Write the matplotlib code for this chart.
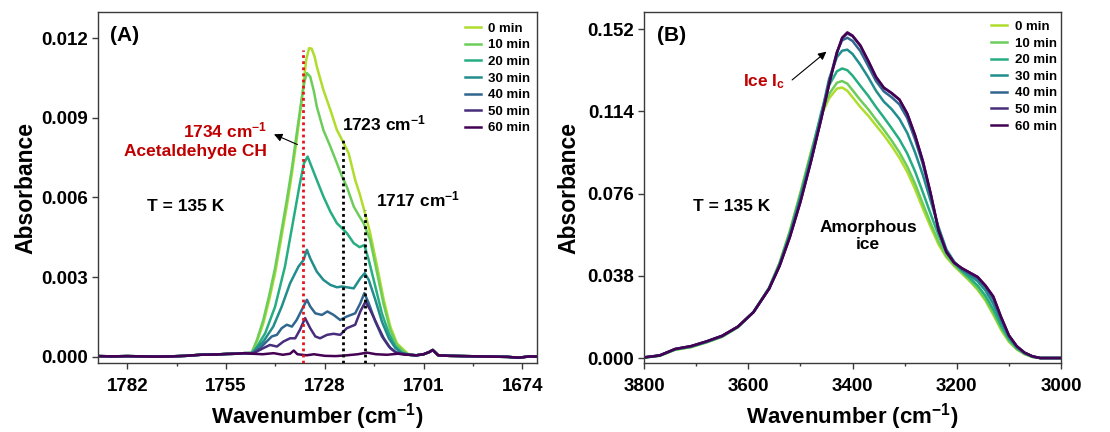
import numpy as np
import matplotlib
matplotlib.use("Agg")
import matplotlib.pyplot as plt
from matplotlib.ticker import MultipleLocator, FormatStrFormatter

plt.rcParams["font.family"] = ["Liberation Sans", "DejaVu Sans"]
plt.rcParams["font.weight"] = "bold"
plt.rcParams["mathtext.fontset"] = "custom"
plt.rcParams["mathtext.rm"] = "Liberation Sans:bold"
plt.rcParams["mathtext.bf"] = "Liberation Sans:bold"
plt.rcParams["mathtext.default"] = "bf"

times = ["0 min", "10 min", "20 min", "30 min", "40 min", "50 min", "60 min"]
colors = ["#b0dc2c", "#6ccd5a", "#26ad81", "#228d8d", "#31678e", "#472d7b", "#440154"]

# ---- (A) C=O stretch region, shared flat baseline on both sides ----
base_left_wn = [1790, 1786, 1782, 1778, 1774, 1770, 1766, 1762, 1758, 1755, 1752, 1750]
base_left_abs = [0.00003, 0.00002, 0.00003, 0.00002, 0.00001, 0.00002, 0.00004, 0.00008,
                 0.00009, 0.00011, 0.00012, 0.00014]
base_right_wn = [1705, 1703, 1701, 1699.5, 1698.5, 1697, 1694, 1690, 1686, 1682, 1678, 1675, 1672, 1670]
base_right_abs = [0.00008, 0.00006, 0.00010, 0.00018, 0.00026, 0.00006, 0.00004, 0.00003,
                  0.00002, 0.00001, 0.0, -0.00003, 0.00002, 0.00001]

a_wn_00 = [1748.0, 1746.5, 1744.8, 1743.2, 1741.6, 1740.0, 1738.4, 1737.0, 1735.7, 1734.3,
           1733.1, 1732.3, 1731.6, 1730.8, 1730.2, 1728.4, 1726.5, 1724.7, 1723.3, 1721.5,
           1719.7, 1718.4, 1717.4, 1715.6, 1713.7, 1711.9, 1710.1, 1708.3, 1706.4]
a_abs_00 = [0.00014, 0.00060, 0.00127, 0.00215, 0.00315, 0.00440, 0.00566, 0.00690, 0.00817, 0.00967,
            0.01118, 0.01162, 0.01160, 0.01130, 0.01093, 0.01005, 0.00930, 0.00854, 0.00817, 0.00767,
            0.00666, 0.00610, 0.00560, 0.00466, 0.00340, 0.00215, 0.00114, 0.00051, 0.00026]

a_wn_10 = [1748.0, 1746.5, 1744.8, 1743.2, 1741.6, 1740.0, 1738.4, 1737.0, 1735.7, 1734.3,
           1733.5, 1732.9, 1732.0, 1731.0, 1730.2, 1728.4, 1726.5, 1724.7, 1723.3, 1722.0,
           1720.1, 1718.6, 1717.4, 1715.6, 1713.7, 1711.9, 1710.1, 1708.3, 1706.4]
a_abs_10 = [0.00016, 0.00066, 0.00140, 0.00232, 0.00335, 0.00462, 0.00590, 0.00710, 0.00840, 0.00975,
            0.01040, 0.01068, 0.01055, 0.01000, 0.00942, 0.00854, 0.00792, 0.00729, 0.00679, 0.00641,
            0.00566, 0.00530, 0.00503, 0.00440, 0.00315, 0.00196, 0.00101, 0.00045, 0.00020]

a_wn_20 = [1748.0, 1747.1, 1744.3, 1741.6, 1738.9, 1736.6, 1734.8, 1733.7, 1732.7, 1732.0,
           1730.2, 1728.4, 1726.5, 1724.7, 1723.3, 1722.0, 1720.1, 1718.5, 1717.2, 1716.0,
           1714.2, 1712.4, 1710.5, 1708.7, 1706.9]
a_abs_20 = [0.00014, 0.00026, 0.00089, 0.00189, 0.00340, 0.00516, 0.00654, 0.00729, 0.00754, 0.00729,
            0.00666, 0.00604, 0.00547, 0.00503, 0.00484, 0.00466, 0.00428, 0.00413, 0.00421, 0.00365,
            0.00265, 0.00164, 0.00089, 0.00039, 0.00016]

a_wn_30 = [1748.0, 1747.5, 1744.8, 1742.1, 1739.8, 1737.5, 1735.2, 1733.8, 1732.9, 1732.0,
           1730.2, 1728.4, 1726.5, 1724.7, 1723.3, 1722.0, 1720.1, 1718.3, 1717.1, 1716.0,
           1714.2, 1712.4, 1710.5, 1708.7, 1706.9]
a_abs_30 = [0.00014, 0.00020, 0.00058, 0.00114, 0.00189, 0.00277, 0.00340, 0.00365, 0.00403, 0.00371,
            0.00321, 0.00290, 0.00271, 0.00262, 0.00265, 0.00262, 0.00258, 0.00296, 0.00315, 0.00290,
            0.00215, 0.00133, 0.00070, 0.00033, 0.00014]

a_wn_40 = [1748.0, 1747.5, 1745.7, 1743.9, 1742.5, 1741.1, 1739.8, 1738.4, 1737.0, 1735.7,
           1734.3, 1732.9, 1732.0, 1730.6, 1728.8, 1727.3, 1725.6, 1723.8, 1722.0, 1719.7,
           1718.3, 1717.2, 1716.0, 1714.2, 1712.4, 1710.5, 1708.7]
a_abs_40 = [0.00014, 0.00016, 0.00033, 0.00058, 0.00077, 0.00083, 0.00108, 0.00121, 0.00114, 0.00139,
            0.00177, 0.00215, 0.00190, 0.00164, 0.00158, 0.00171, 0.00158, 0.00139, 0.00152, 0.00164,
            0.00202, 0.00240, 0.00202, 0.00133, 0.00077, 0.00039, 0.00018]

a_wn_50 = [1748.0, 1747.5, 1744.8, 1743.0, 1741.1, 1739.3, 1737.5, 1736.1, 1734.8, 1733.4,
           1732.0, 1730.6, 1729.3, 1727.4, 1725.6, 1723.8, 1722.0, 1719.7, 1718.3, 1716.9,
           1715.6, 1713.7, 1711.9, 1710.1, 1708.3]
a_abs_50 = [0.00014, 0.00014, 0.00033, 0.00045, 0.00039, 0.00058, 0.00070, 0.00070, 0.00102, 0.00146,
            0.00108, 0.00077, 0.00070, 0.00083, 0.00087, 0.00083, 0.00108, 0.00121, 0.00171, 0.00208,
            0.00177, 0.00121, 0.00070, 0.00033, 0.00014]

a_wn_60 = [1748, 1745, 1742, 1739.5, 1737.5, 1736.5, 1735.5, 1733, 1731, 1728,
           1725, 1722, 1719, 1716.5, 1714, 1711, 1708, 1706]
a_abs_60 = [0.00012, 0.00010, 0.00014, 0.00008, 0.00012, 0.00024, 0.00010, 0.00006, 0.00010, 0.00004,
            0.00003, 0.00006, 0.00010, 0.00016, 0.00010, 0.00008, 0.00012, 0.00008]

a_wn = [a_wn_00, a_wn_10, a_wn_20, a_wn_30, a_wn_40, a_wn_50, a_wn_60]
a_abs = [a_abs_00, a_abs_10, a_abs_20, a_abs_30, a_abs_40, a_abs_50, a_abs_60]

# band positions marked with dotted lines, and how high each line reaches
band_wn = [1734, 1723, 1717]
band_top = [0.01156, 0.00817, 0.00553]
band_colors = ["#e8141c", "black", "black"]

# ---- (B) O-H stretch region, all spectra on one grid ----
b_wn = [3800, 3770, 3740, 3710, 3680, 3650, 3620, 3590, 3560, 3540, 3520, 3500, 3480, 3460, 3445,
        3430, 3420, 3410, 3400, 3385, 3370, 3355, 3340, 3325, 3310, 3295, 3280, 3265, 3250, 3235,
        3220, 3205, 3190, 3175, 3160, 3145, 3130, 3115, 3100, 3085, 3070, 3055, 3040, 3020, 3000]
b_abs_00 = [0.0002, 0.0010, 0.0038, 0.0050, 0.0072, 0.0098, 0.0142, 0.0212, 0.0325, 0.0440, 0.0590, 0.0765, 0.0950, 0.1120, 0.1200,
            0.1245, 0.1250, 0.1235, 0.1205, 0.1160, 0.1120, 0.1075, 0.1030, 0.0980, 0.0925, 0.0860, 0.0780, 0.0690, 0.0605, 0.0525,
            0.0465, 0.0425, 0.0390, 0.0355, 0.0315, 0.0265, 0.0200, 0.0130, 0.0075, 0.0040, 0.0018, 0.0005, 0.0, 0.0, 0.0]
b_abs_10 = [0.0002, 0.0011, 0.0039, 0.0051, 0.0073, 0.0099, 0.0143, 0.0213, 0.0325, 0.0438, 0.0586, 0.0760, 0.0945, 0.1125, 0.1220,
            0.1272, 0.1280, 0.1268, 0.1238, 0.1192, 0.1150, 0.1102, 0.1055, 0.1005, 0.0950, 0.0885, 0.0805, 0.0712, 0.0622, 0.0538,
            0.0472, 0.0430, 0.0395, 0.0360, 0.0322, 0.0272, 0.0208, 0.0138, 0.0080, 0.0042, 0.0019, 0.0005, 0.0, 0.0, 0.0]
b_abs_20 = [0.0002, 0.0011, 0.0040, 0.0052, 0.0074, 0.0100, 0.0143, 0.0213, 0.0324, 0.0436, 0.0580, 0.0752, 0.0935, 0.1135, 0.1260,
            0.1325, 0.1338, 0.1330, 0.1305, 0.1258, 0.1212, 0.1160, 0.1112, 0.1062, 0.1010, 0.0945, 0.0862, 0.0765, 0.0665, 0.0568,
            0.0488, 0.0438, 0.0402, 0.0370, 0.0335, 0.0288, 0.0225, 0.0150, 0.0088, 0.0046, 0.0021, 0.0006, 0.0, 0.0, 0.0]
b_abs_30 = [0.0003, 0.0011, 0.0041, 0.0053, 0.0075, 0.0101, 0.0144, 0.0212, 0.0322, 0.0432, 0.0572, 0.0740, 0.0922, 0.1125, 0.1290,
            0.1390, 0.1420, 0.1425, 0.1405, 0.1355, 0.1298, 0.1235, 0.1185, 0.1150, 0.1105, 0.1040, 0.0950, 0.0845, 0.0725, 0.0605,
            0.0502, 0.0445, 0.0408, 0.0382, 0.0355, 0.0312, 0.0250, 0.0170, 0.0098, 0.0050, 0.0023, 0.0007, 0.0, 0.0, 0.0]
b_abs_40 = [0.0003, 0.0012, 0.0042, 0.0054, 0.0076, 0.0102, 0.0145, 0.0212, 0.0321, 0.0428, 0.0565, 0.0728, 0.0910, 0.1112, 0.1278,
            0.1415, 0.1468, 0.1480, 0.1465, 0.1418, 0.1350, 0.1280, 0.1232, 0.1205, 0.1172, 0.1108, 0.1010, 0.0895, 0.0752, 0.0595,
            0.0495, 0.0442, 0.0412, 0.0390, 0.0368, 0.0328, 0.0272, 0.0182, 0.0102, 0.0053, 0.0024, 0.0008, 0.0, 0.0, 0.0]
b_abs_50 = [0.0003, 0.0012, 0.0042, 0.0055, 0.0077, 0.0103, 0.0145, 0.0212, 0.0320, 0.0425, 0.0561, 0.0722, 0.0906, 0.1106, 0.1266,
            0.1410, 0.1478, 0.1500, 0.1487, 0.1442, 0.1372, 0.1297, 0.1248, 0.1223, 0.1193, 0.1128, 0.1028, 0.0908, 0.0758, 0.0590,
            0.0490, 0.0440, 0.0414, 0.0394, 0.0374, 0.0334, 0.0283, 0.0188, 0.0104, 0.0055, 0.0025, 0.0008, 0.0, 0.0, 0.0]
b_abs_60 = [0.0003, 0.0012, 0.0042, 0.0055, 0.0077, 0.0103, 0.0145, 0.0212, 0.0320, 0.0425, 0.0560, 0.0720, 0.0905, 0.1105, 0.1265,
            0.1410, 0.1480, 0.1505, 0.1490, 0.1445, 0.1375, 0.1300, 0.1250, 0.1225, 0.1195, 0.1130, 0.1030, 0.0910, 0.0760, 0.0590,
            0.0490, 0.0440, 0.0415, 0.0395, 0.0375, 0.0335, 0.0285, 0.0190, 0.0105, 0.0055, 0.0025, 0.0008, 0.0, 0.0, 0.0]
b_abs = [b_abs_00, b_abs_10, b_abs_20, b_abs_30, b_abs_40, b_abs_50, b_abs_60]

SPINE = "#3a3a3a"


def style_axes(ax):
    for sp in ax.spines.values():
        sp.set_color(SPINE)
        sp.set_linewidth(1.0)
    ax.tick_params(axis="both", which="major", direction="out", length=4, width=1,
                   color=SPINE, labelsize=13.5, top=False, right=False)
    ax.tick_params(axis="x", which="major", pad=7)
    ax.tick_params(axis="y", which="major", pad=3)
    ax.tick_params(axis="x", which="minor", direction="out", length=2.5, width=1, color=SPINE)
    ax.set_ylabel("Absorbance", fontsize=16.5, fontweight="bold")
    ax.set_xlabel(r"Wavenumber (cm$^{-1}$)", fontsize=16, fontweight="bold")


def add_legend(ax, anchor):
    ax.legend(loc="upper right", bbox_to_anchor=anchor, frameon=False, fontsize=9.5,
              handlelength=1.25, handletextpad=0.55, labelspacing=0.33,
              borderpad=0, borderaxespad=0)


fig = plt.figure(figsize=(11.1, 4.32), dpi=100)
ax_a = fig.add_axes([0.0883, 0.1597, 0.3955, 0.8125])
ax_b = fig.add_axes([0.5802, 0.1597, 0.3757, 0.8125])

# panel A
for wn, ab, lab, col in zip(a_wn, a_abs, times, colors):
    x = np.concatenate([base_left_wn, wn, base_right_wn])
    y = np.concatenate([base_left_abs, ab, base_right_abs])
    ax_a.plot(x, y, color=col, lw=1.8, label=lab)

ax_a.set_xlim(1790, 1670)
ax_a.set_ylim(-0.00023, 0.01298)
ax_a.vlines(band_wn, -0.00023, band_top, colors=band_colors, linestyles=(0, (1, 1.2)), lw=2.0, zorder=5)
ax_a.xaxis.set_major_locator(MultipleLocator(27))
ax_a.xaxis.set_minor_locator(MultipleLocator(13.5))
ax_a.yaxis.set_major_locator(MultipleLocator(0.003))
ax_a.yaxis.set_major_formatter(FormatStrFormatter("%.3f"))
style_axes(ax_a)
ax_a.yaxis.set_label_coords(-0.138, 0.5)
ax_a.xaxis.set_label_coords(0.5, -0.108)
add_legend(ax_a, (0.985, 0.97))

red = "#c00000"
ax_a.text(0.027, 0.934, "(A)", transform=ax_a.transAxes, fontsize=15, ha="left", va="center")
ax_a.text(1743.8, 0.00854, r"1734 cm$^{-1}$", color=red, fontsize=12.5, ha="right", va="center")
ax_a.text(1743.8, 0.00772, "Acetaldehyde CH", color=red, fontsize=12.5, ha="right", va="center")
ax_a.annotate("", xy=(1742.6, 0.00842), xytext=(1734.8, 0.00795),
              arrowprops=dict(arrowstyle="-|>", color="black", lw=0.8, mutation_scale=12))
ax_a.text(1723.3, 0.0088, r"1723 cm$^{-1}$", fontsize=12.5, ha="left", va="center")
ax_a.text(1714.0, 0.00591, r"1717 cm$^{-1}$", fontsize=12.5, ha="left", va="center")
ax_a.text(1776.5, 0.00566, "T = 135 K", fontsize=12.5, ha="left", va="center")

# panel B
for ab, lab, col in zip(b_abs, times, colors):
    ax_b.plot(b_wn, ab, color=col, lw=1.8, label=lab)

ax_b.set_xlim(3800, 3000)
ax_b.set_ylim(-0.0023, 0.1599)
ax_b.xaxis.set_major_locator(MultipleLocator(200))
ax_b.xaxis.set_minor_locator(MultipleLocator(100))
ax_b.set_yticks([0.0, 0.038, 0.076, 0.114, 0.152])
ax_b.yaxis.set_major_formatter(FormatStrFormatter("%.3f"))
style_axes(ax_b)
ax_b.yaxis.set_label_coords(-0.152, 0.5)
ax_b.xaxis.set_label_coords(0.5, -0.108)
add_legend(ax_b, (0.99, 0.975))

ax_b.text(0.031, 0.934, "(B)", transform=ax_b.transAxes, fontsize=15, ha="left", va="center")
ax_b.text(3610, 0.1276, r"Ice I$_{c}$", color=red, fontsize=12.5, ha="left", va="center")
ax_b.annotate("", xy=(3446, 0.1424), xytext=(3520, 0.1277),
              arrowprops=dict(arrowstyle="-|>", color="black", lw=0.8, mutation_scale=12))
ax_b.text(3706, 0.0698, "T = 135 K", fontsize=12.5, ha="left", va="center")
ax_b.text(3370, 0.0564, "Amorphous\nice", fontsize=12.5, ha="center", va="center", linespacing=1.15)

fig.savefig("out.png", dpi=100)
